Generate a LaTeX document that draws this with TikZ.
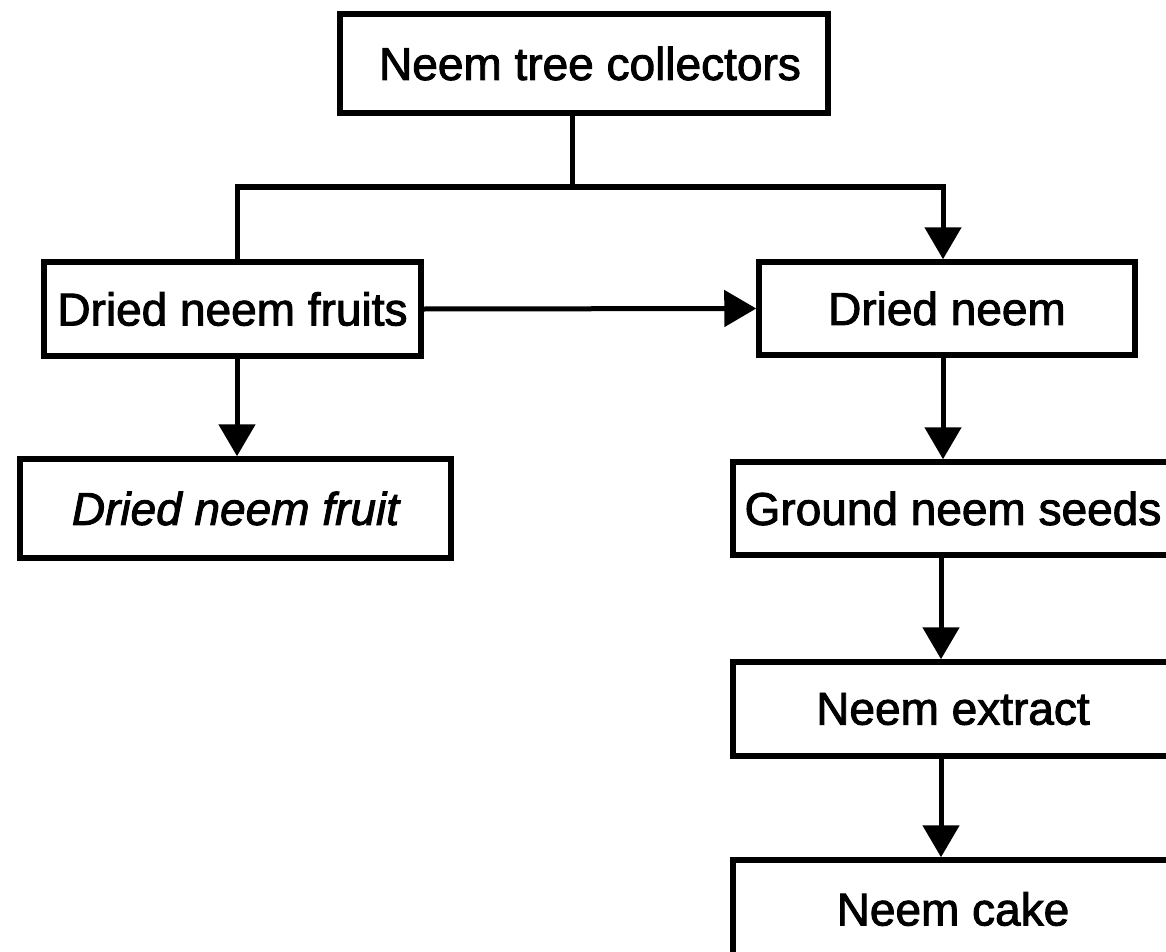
\documentclass[tikz,border=0pt]{standalone}
\usepackage{fontspec}
\setmainfont{Liberation Sans}[FakeBold=2]
\usetikzlibrary{arrows.meta}

\tikzset{
  box/.style={draw, line width=5.5pt, inner sep=0pt, align=center,
    font=\fontsize{46}{50}\selectfont},
  conn/.style={line width=5pt},
  arr/.style={conn, -{Triangle[width=36pt,length=32pt]}}
}

\begin{document}
\begin{tikzpicture}[x=1pt, y=-1pt]
  \useasboundingbox (0,0) rectangle (1166,952);
  \clip (0,0) rectangle (1166,952);

  % boxes
  \node[box, minimum width=488pt, minimum height=99pt] (top) at (584,63.5) {\hspace*{12pt}Neem tree collectors};
  \node[box, minimum width=377pt, minimum height=94pt] (fruits) at (232.5,309) {Dried neem fruits};
  \node[box, minimum width=431pt, minimum height=99pt] (dfruit) at (235.5,508.5) {\itshape Dried neem fruit};
  \node[box, minimum width=376pt, minimum height=93pt] (dneem) at (947,308.5) {Dried neem};
  \node[box, minimum width=440pt, minimum height=93pt] (ground) at (953,508.5) {Ground neem seeds};
  \node[box, minimum width=440pt, minimum height=94pt] (extract) at (953,709) {Neem extract};
  \node[box, minimum width=440pt, minimum height=98pt] (cake) at (953,909) {Neem cake};

  % branching points
  \coordinate (j)  at (572,187);
  \coordinate (jl) at (237,187);
  \coordinate (jr) at (943,187);

  % connectors
  \draw[conn] (top.south -| j) -- (j);
  \draw[arr] (fruits.north -| jl) -- (jl) -- (jr) -- (dneem.north -| jr);
  \draw[arr] (fruits.east) -- (dneem.west);
  \draw[arr] (fruits.south -| jl) -- (dfruit.north -| jl);
  \draw[arr] (dneem.south -| jr) -- (ground.north -| jr);
  \draw[arr] (ground.south -| 941,0) -- (extract.north -| 941,0);
  \draw[arr] (extract.south -| 941,0) -- (cake.north -| 941,0);
\end{tikzpicture}
\end{document}
